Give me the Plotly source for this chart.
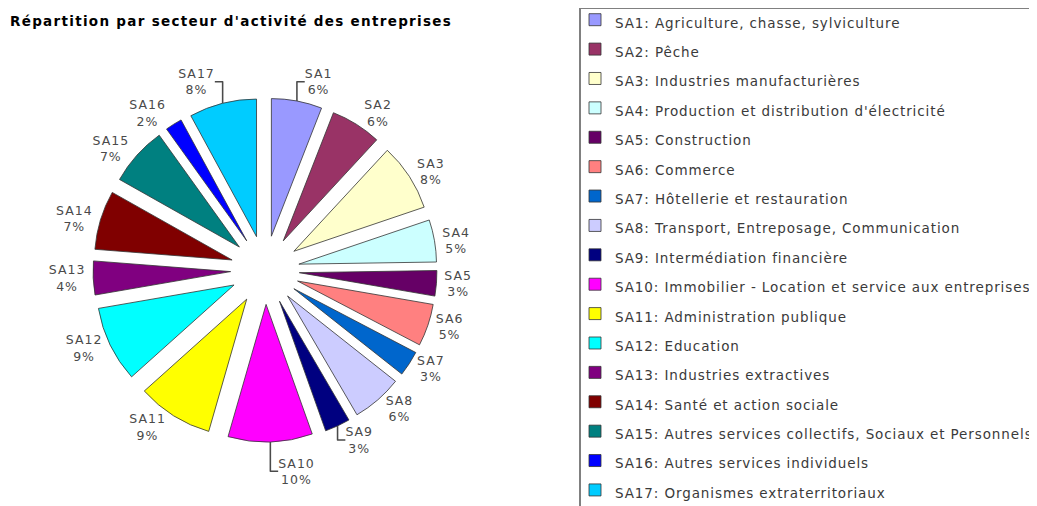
import plotly.graph_objects as go

codes = ["SA1", "SA2", "SA3", "SA4", "SA5", "SA6", "SA7", "SA8", "SA9", "SA10",
         "SA11", "SA12", "SA13", "SA14", "SA15", "SA16", "SA17"]
descriptions = [
    "Agriculture, chasse, sylviculture",
    "Pêche",
    "Industries manufacturières",
    "Production et distribution d'électricité",
    "Construction",
    "Commerce",
    "Hôtellerie et restauration",
    "Transport, Entreposage, Communication",
    "Intermédiation financière",
    "Immobilier - Location et service aux entreprises",
    "Administration publique",
    "Education",
    "Industries extractives",
    "Santé et action sociale",
    "Autres services collectifs, Sociaux et Personnels",
    "Autres services individuels",
    "Organismes extraterritoriaux",
]
percents = [6, 6, 8, 5, 3, 5, 3, 6, 3, 10, 9, 9, 4, 7, 7, 2, 8]
colors = ["#9999FF", "#993366", "#FFFFCC", "#CCFFFF", "#660066", "#FF8080",
          "#0066CC", "#CCCCFF", "#000080", "#FF00FF", "#FFFF00", "#00FFFF",
          "#800080", "#800000", "#008080", "#0000FF", "#00CCFF"]

FONT = "DejaVu Sans, Verdana, sans-serif"
legend_labels = [
    f"<span style='font-size:13.5px;letter-spacing:0.9px'>{c}: {d}</span>"
    for c, d in zip(codes, descriptions)
]
slice_text = [f"<span style='letter-spacing:1px'>{c}</span>" for c in codes]

W, H = 1037, 506
OFF = 8  # page body margin offset
cx, cy, R = 265 - OFF, 270 - OFF, 172

fig = go.Figure(go.Pie(
    labels=legend_labels,
    values=percents,
    text=slice_text,
    texttemplate="%{text}<br><span style='letter-spacing:1px'>%{percent:.0%}</span>",
    textposition="outside",
    textfont=dict(family=FONT, size=12.5, color="#4a4a4a"),
    marker=dict(colors=colors, line=dict(color="#333333", width=0.8)),
    pull=[0.25] * len(codes),
    sort=False,
    direction="clockwise",
    rotation=0,
    hoverinfo="label+percent",
    domain=dict(x=[(cx - R) / W, (cx + R) / W], y=[1 - (cy + R) / H, 1 - (cy - R) / H]),
))

# legend frame (the native legend is kept for the entries)
fig.add_shape(
    type="rect", xref="paper", yref="paper",
    x0=(580 - OFF) / W, x1=1.05, y0=-0.05, y1=1 - (8 - OFF) / H,
    line=dict(color="#808080", width=2), fillcolor="rgba(0,0,0,0)", layer="below",
)

fig.update_layout(
    width=W, height=H,
    margin=dict(l=0, r=0, t=0, b=0, autoexpand=False),
    paper_bgcolor="white",
    plot_bgcolor="white",
    title=dict(
        text="<b><span style='letter-spacing:1.3px'>Répartition par secteur d'activité des entreprises</span></b>",
        font=dict(family=FONT, size=13.5, color="black"),
        x=2 / W, xanchor="left", xref="paper",
        y=1 - 13 / H, yanchor="middle", yref="paper",
    ),
    legend=dict(
        x=(575 - OFF) / W, xanchor="left",
        y=1 + 8 / H, yanchor="top",
        font=dict(family=FONT, size=20.3, color="#3a3a3a"),
        borderwidth=0,
        bgcolor="rgba(0,0,0,0)",
        traceorder="normal",
        maxheight=1,
    ),
    showlegend=True,
)

fig.write_html("out.html")
